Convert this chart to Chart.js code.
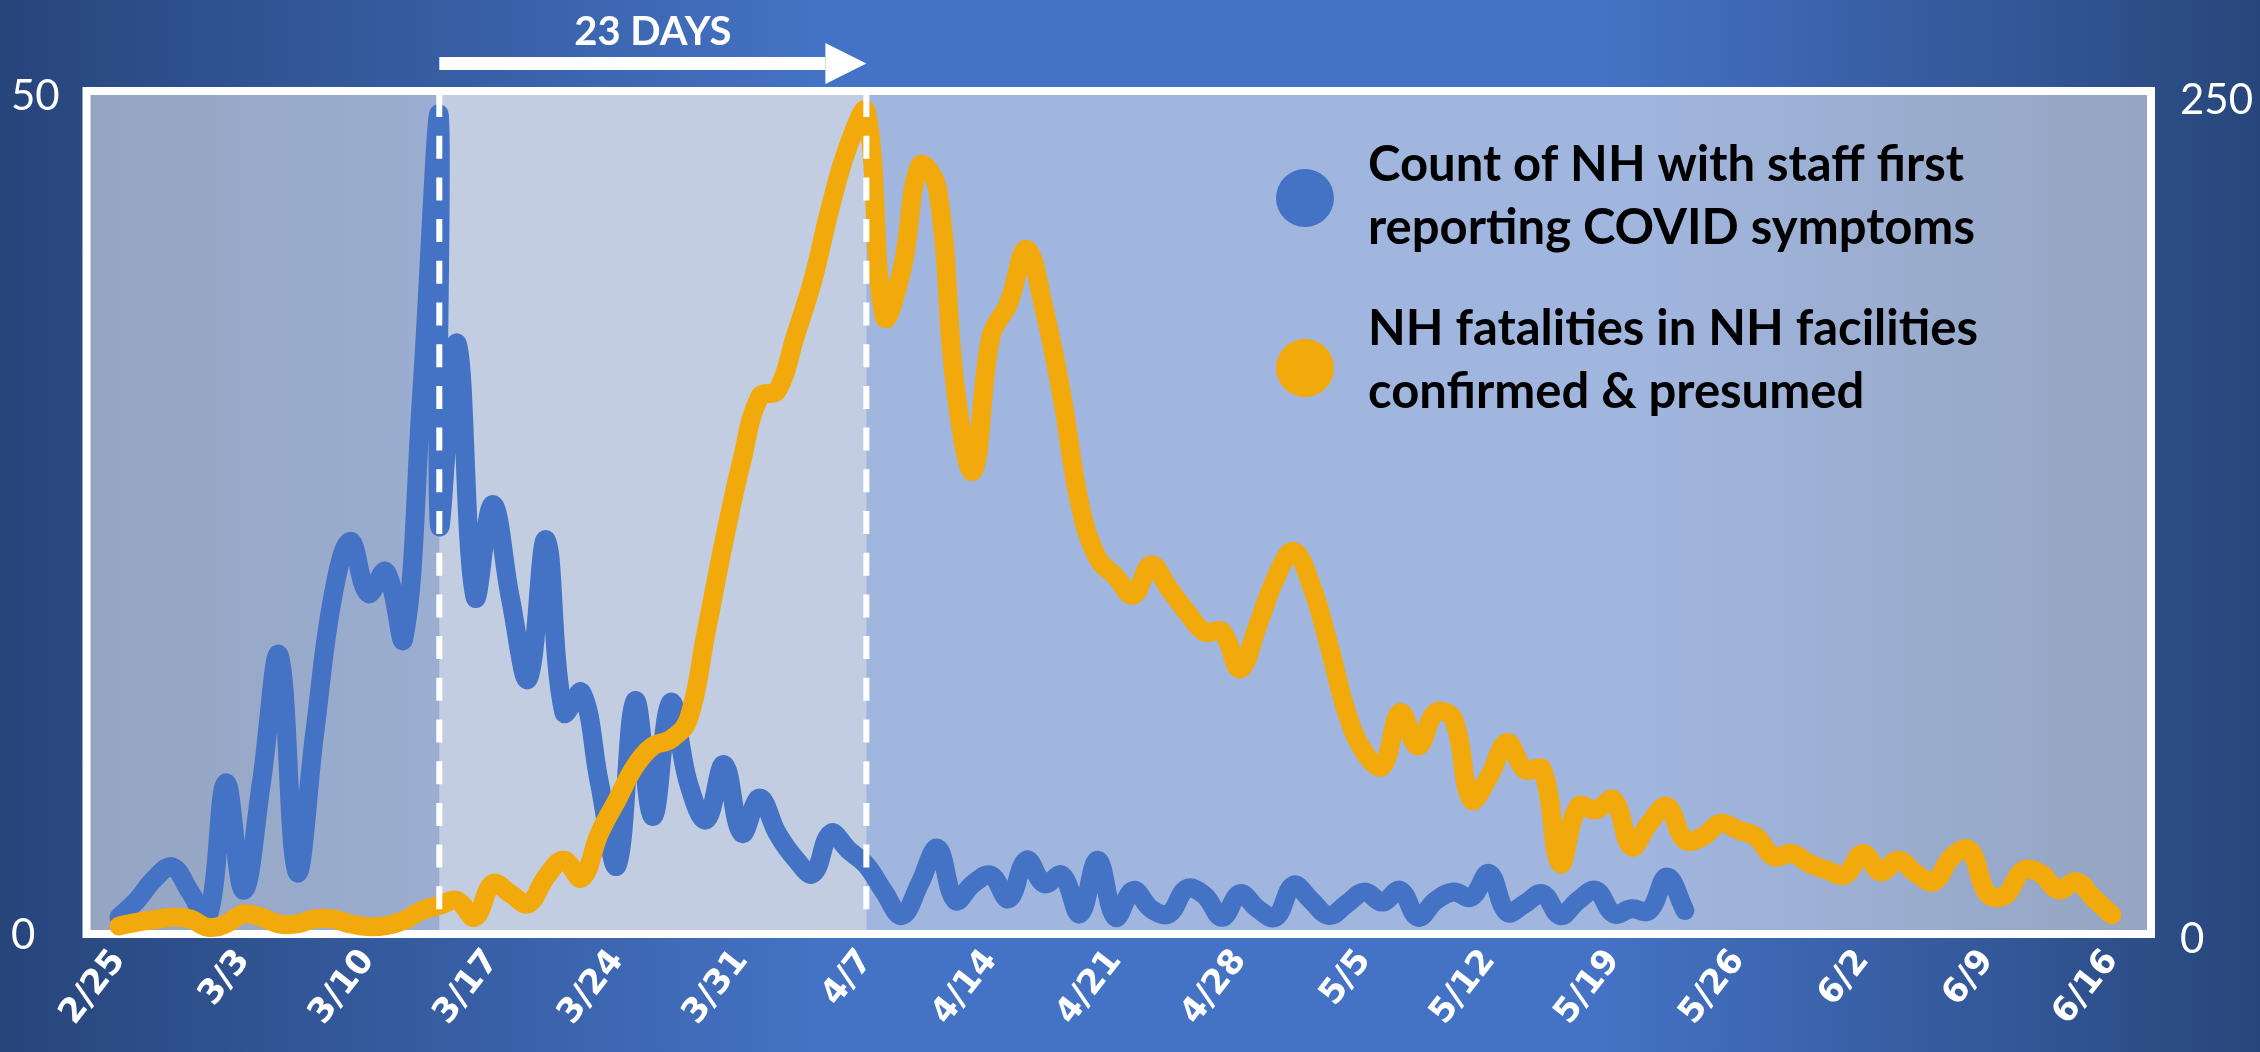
<!DOCTYPE html>
<html>
<head>
<meta charset="utf-8">
<script src="https://cdn.jsdelivr.net/npm/chart.js@4.4.1/dist/chart.umd.min.js"></script>
<style>
  html, body { margin: 0; padding: 0; }
  body {
    width: 2260px; height: 1052px; overflow: hidden;
    background: linear-gradient(90deg, #27457b 0%, #4472c4 36%, #4472c4 71%, #28467b 100%);
  }
  canvas { display: block; }
</style>
</head>
<body>
<canvas id="nhChart" width="2260" height="1052"></canvas>
<script>
// one category per day, 2/25 .. 6/16
const dates = [
  '2/25','2/26','2/27','2/28','2/29','3/1','3/2','3/3','3/4','3/5',
  '3/6','3/7','3/8','3/9','3/10','3/11','3/12','3/13','3/14','3/15',
  '3/16','3/17','3/18','3/19','3/20','3/21','3/22','3/23','3/24','3/25',
  '3/26','3/27','3/28','3/29','3/30','3/31','4/1','4/2','4/3','4/4',
  '4/5','4/6','4/7','4/8','4/9','4/10','4/11','4/12','4/13','4/14',
  '4/15','4/16','4/17','4/18','4/19','4/20','4/21','4/22','4/23','4/24',
  '4/25','4/26','4/27','4/28','4/29','4/30','5/1','5/2','5/3','5/4',
  '5/5','5/6','5/7','5/8','5/9','5/10','5/11','5/12','5/13','5/14',
  '5/15','5/16','5/17','5/18','5/19','5/20','5/21','5/22','5/23','5/24',
  '5/25','5/26','5/27','5/28','5/29','5/30','5/31','6/1','6/2','6/3',
  '6/4','6/5','6/6','6/7','6/8','6/9','6/10','6/11','6/12','6/13',
  '6/14','6/15','6/16'
];

const xTickLabels = ['2/25','3/3','3/10','3/17','3/24','3/31','4/7','4/14','4/21',
  '4/28','5/5','5/12','5/19','5/26','6/2','6/9','6/16'];

// NH with staff first reporting symptoms (left axis), 2/25 .. 5/23
const staffCounts = [
  1, 2, 3.3, 4, 2.5, 1, 9, 2.6, 9, 16.6,
  3.7, 12, 20, 23.4, 20.3, 21.6, 17.6, 32, 48.8, 35.2,
  20.1, 25.6, 20, 15.2, 23.5, 13.2, 14.4, 9, 4.1, 13.9,
  7, 13.8, 9, 6.8, 10.1, 6, 8.1, 6, 4.5, 3.6,
  6, 5, 4.1, 2.5, 1.1, 3, 5.1, 2, 3, 3.5,
  2.1, 4.4, 3, 3.5, 1.2, 4.4, 1, 2.6, 1.5, 1.2,
  2.7, 2.3, 1, 2.4, 1.5, 1, 2.9, 2, 1.1, 1.8,
  2.5, 1.9, 2.6, 1, 2, 2.5, 2.2, 3.6, 1.3, 1.8,
  2.4, 1.1, 2, 2.6, 1.2, 1.5, 1.4, 3.4, 1.4
];
// 3/14 appears twice in the staff series (second row)
const staffRepeat = { date: '3/14', count: 24.4 };

// NH fatalities, confirmed & presumed (right axis), 2/25 .. 6/16
const fatalities = [
  2.4, 3.5, 4.3, 5, 4.5, 2, 3, 6, 5, 3,
  3, 4.5, 4.5, 3, 2.2, 2.5, 4, 7, 8.5, 10,
  5, 15, 12, 9, 17, 22, 16.6, 30, 40, 50,
  56, 58, 64, 90, 117, 141, 160, 162, 178, 195,
  217, 235, 245, 184, 198, 229, 222, 163, 138, 178,
  188, 204, 186, 160, 128, 112, 106.6, 101, 110, 103,
  96, 90, 90, 79, 92, 106, 114, 104, 86, 66,
  54, 50, 66, 56, 66, 64, 40, 47, 57, 49,
  49, 21, 38, 37, 40, 26, 33, 38, 28, 29,
  33, 31, 29, 23, 24, 21, 19, 17.6, 24, 18.5,
  22, 18, 15.6, 23, 25, 12, 11.5, 19, 18, 13.1,
  15.6, 10.5, 5.7
];

const legendLines = [
  ['Count of NH with staff first', 'reporting COVID symptoms'],
  ['NH fatalities in NH facilities', 'confirmed & presumed']
];
const peakMarks = ['3/14', '4/7'];   // dashed lines + "23 DAYS" arrow
const spanText = '23 DAYS';

const BLUE = '#4472c4';
const GOLD = '#f2a90b';

const staffPoints = staffCounts.map((v, i) => ({ x: i, y: v }));
staffPoints.splice(dates.indexOf(staffRepeat.date) + 1, 0,
  { x: dates.indexOf(staffRepeat.date), y: staffRepeat.count });
const fatalityPoints = fatalities.map((v, i) => ({ x: i, y: v }));

const decorations = {
  id: 'decorations',
  beforeDatasetsDraw(chart) {
    const { ctx, chartArea: a, scales: { x } } = chart;
    ctx.save();
    const g = ctx.createLinearGradient(a.left, 0, a.right, 0);
    g.addColorStop(0, '#95a5c2');
    g.addColorStop(0.33, '#a1b6df');
    g.addColorStop(0.75, '#a1b6df');
    g.addColorStop(1, '#95a5c2');
    ctx.fillStyle = g;
    ctx.fillRect(a.left, a.top, a.right - a.left, a.bottom - a.top);

    const x1 = x.getPixelForValue(dates.indexOf(peakMarks[0]));
    const x2 = x.getPixelForValue(dates.indexOf(peakMarks[1]));
    ctx.fillStyle = '#c3cde1';
    ctx.fillRect(x1, a.top - 4, x2 - x1, a.bottom - a.top + 3);

    ctx.strokeStyle = '#ffffff';
    ctx.lineWidth = 8;
    ctx.strokeRect(a.left - 3.5, a.top - 4, a.right - a.left + 7.5, a.bottom - a.top + 4);
    ctx.restore();
  },
  afterDatasetsDraw(chart) {
    const { ctx, chartArea: a, scales: { x } } = chart;
    ctx.save();
    ctx.strokeStyle = '#ffffff';
    ctx.lineWidth = 6;
    ctx.setLineDash([23, 18.7]);
    peakMarks.forEach(d => {
      const px = x.getPixelForValue(dates.indexOf(d));
      ctx.beginPath();
      ctx.moveTo(px, a.top - 1);
      ctx.lineTo(px, a.bottom - 16);
      ctx.stroke();
    });
    ctx.restore();
  },
  afterDraw(chart) {
    const { ctx, scales: { x } } = chart;
    const xa = x.getPixelForValue(dates.indexOf(peakMarks[0]));
    const xb = x.getPixelForValue(dates.indexOf(peakMarks[1]));
    ctx.save();
    // arrow between the two peaks
    ctx.fillStyle = '#ffffff';
    ctx.fillRect(xa, 57, xb - 41 - xa, 13);
    ctx.beginPath();
    ctx.moveTo(xb - 41, 43);
    ctx.lineTo(xb, 63.5);
    ctx.lineTo(xb - 41, 84);
    ctx.closePath();
    ctx.fill();
    ctx.font = 'bold 40px Lato';
    ctx.textAlign = 'center';
    ctx.textBaseline = 'alphabetic';
    ctx.fillText(spanText, (xa + xb) / 2, 45);

    // legend inside the plot
    const colors = [BLUE, GOLD];
    const markY = [198, 368];
    const baseY = [181, 345];
    ctx.font = 'bold 49px Lato';
    ctx.textAlign = 'left';
    legendLines.forEach((lines, i) => {
      ctx.fillStyle = colors[i];
      ctx.beginPath();
      ctx.arc(1305, markY[i], 29, 0, Math.PI * 2);
      ctx.fill();
      ctx.fillStyle = '#000000';
      lines.forEach((t, j) => ctx.fillText(t, 1368, baseY[i] + j * 63));
    });
    ctx.restore();
  }
};

new Chart(document.getElementById('nhChart').getContext('2d'), {
  type: 'line',
  data: {
    datasets: [
      {
        label: legendLines[0].join(' '),
        data: staffPoints,
        yAxisID: 'y',
        borderColor: BLUE,
        backgroundColor: BLUE,
        borderWidth: 19,
        order: 2
      },
      {
        label: legendLines[1].join(' '),
        data: fatalityPoints,
        yAxisID: 'y2',
        borderColor: GOLD,
        backgroundColor: GOLD,
        borderWidth: 19,
        order: 1
      }
    ]
  },
  options: {
    responsive: false,
    animation: false,
    devicePixelRatio: 1,
    layout: { padding: { left: 11, right: 0, top: 95, bottom: 0 } },
    elements: {
      point: { radius: 0, hoverRadius: 0 },
      line: { tension: 0.4, borderCapStyle: 'round', borderJoinStyle: 'round', fill: false }
    },
    datasets: { line: { clip: false } },
    plugins: { legend: { display: false }, tooltip: { enabled: false } },
    scales: {
      x: {
        type: 'linear',
        min: -1.63,
        max: 113.97,
        grid: { display: false, drawTicks: false },
        border: { display: false },
        afterBuildTicks: s => { s.ticks = xTickLabels.map(l => ({ value: dates.indexOf(l) })); },
        afterFit: s => { s.height = 118; },
        ticks: {
          color: '#ffffff',
          font: { family: 'DejaVu Sans', weight: 'bold', size: 34 },
          minRotation: 52,
          maxRotation: 52,
          autoSkip: false,
          padding: 8,
          callback: v => dates[v]
        }
      },
      y: {
        position: 'left',
        min: 0,
        max: 50,
        grid: { display: false, drawTicks: false },
        border: { display: false },
        afterBuildTicks: s => { s.ticks = [{ value: 0 }, { value: 50 }]; },
        afterFit: s => { s.width = 79; },
        ticks: { color: '#ffffff', font: { family: 'Lato', size: 42 }, crossAlign: 'far', padding: 0, labelOffset: 1 }
      },
      y2: {
        position: 'right',
        min: 0,
        max: 250,
        grid: { display: false, drawTicks: false },
        border: { display: false },
        afterBuildTicks: s => { s.ticks = [{ value: 0 }, { value: 250 }]; },
        afterFit: s => { s.width = 113; },
        ticks: { color: '#ffffff', font: { family: 'Lato', size: 42 }, crossAlign: 'near', padding: 33, labelOffset: 5 }
      }
    }
  },
  plugins: [decorations]
});
</script>
</body>
</html>
